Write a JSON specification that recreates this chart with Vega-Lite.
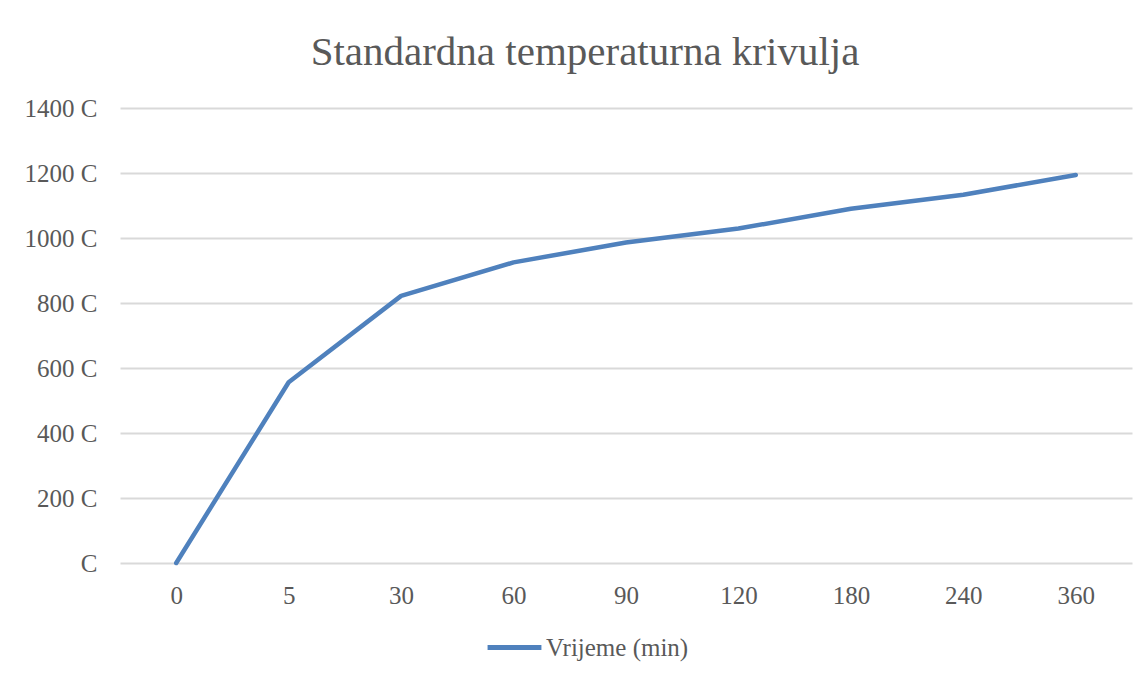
{
  "$schema": "https://vega.github.io/schema/vega-lite/v6.json",
  "width": 1012,
  "height": 455,
  "autosize": {"type": "none"},
  "padding": {"left": 120, "top": 108, "right": 16, "bottom": 115},
  "background": "white",
  "title": {
    "text": "Standardna temperaturna krivulja",
    "font": "Liberation Serif",
    "fontSize": 41,
    "fontWeight": "normal",
    "color": "#595959",
    "anchor": "middle",
    "frame": "group",
    "dx": -41,
    "offset": 22
  },
  "data": {
    "values": [
      {"t": "0", "temp": 0, "series": "Vrijeme (min)"},
      {"t": "5", "temp": 556, "series": "Vrijeme (min)"},
      {"t": "30", "temp": 822, "series": "Vrijeme (min)"},
      {"t": "60", "temp": 925, "series": "Vrijeme (min)"},
      {"t": "90", "temp": 986, "series": "Vrijeme (min)"},
      {"t": "120", "temp": 1029, "series": "Vrijeme (min)"},
      {"t": "180", "temp": 1090, "series": "Vrijeme (min)"},
      {"t": "240", "temp": 1133, "series": "Vrijeme (min)"},
      {"t": "360", "temp": 1194, "series": "Vrijeme (min)"}
    ]
  },
  "mark": {"type": "line", "strokeWidth": 4.5, "strokeCap": "round", "strokeJoin": "round"},
  "encoding": {
    "x": {
      "field": "t",
      "type": "ordinal",
      "sort": null,
      "title": null,
      "axis": {
        "labelAngle": 0,
        "domain": false,
        "ticks": false,
        "labelPadding": 20,
        "labelFont": "Liberation Serif",
        "labelFontSize": 25,
        "labelColor": "#595959"
      }
    },
    "y": {
      "field": "temp",
      "type": "quantitative",
      "scale": {"domain": [0, 1400], "nice": false},
      "title": null,
      "axis": {
        "values": [0, 200, 400, 600, 800, 1000, 1200, 1400],
        "labelExpr": "datum.value === 0 ? 'C' : format(datum.value, 'd') + ' C'",
        "domain": false,
        "ticks": false,
        "labelPadding": 23,
        "labelFont": "Liberation Serif",
        "labelFontSize": 25,
        "labelColor": "#595959",
        "gridColor": "#d9d9d9",
        "gridWidth": 2
      }
    },
    "color": {
      "field": "series",
      "type": "nominal",
      "scale": {"range": ["#4f81bd"]},
      "legend": {
        "title": null,
        "orient": "none",
        "legendX": 365,
        "legendY": 510,
        "symbolType": "stroke",
        "symbolSize": 2900,
        "symbolStrokeWidth": 5,
        "labelFont": "Liberation Serif",
        "labelFontSize": 25,
        "labelColor": "#595959",
        "labelOffset": 2
      }
    }
  },
  "config": {"view": {"stroke": null}}
}
